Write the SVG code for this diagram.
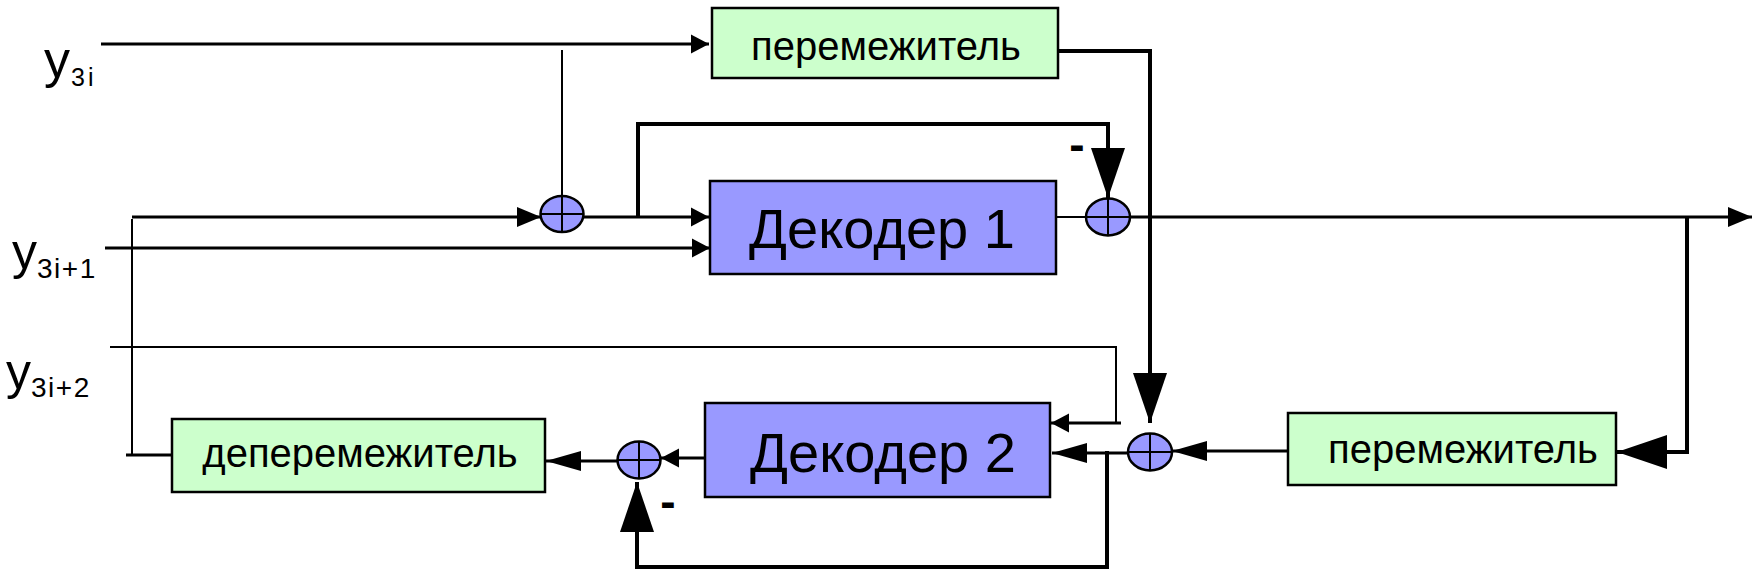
<svg xmlns="http://www.w3.org/2000/svg" width="1760" height="572" viewBox="0 0 1760 572">
<style>
.box{stroke:#000;stroke-width:2.5}
.green{fill:#ccffcc}
.blue{fill:#9999ff}
.lbl{font-family:"Liberation Sans",Arial,sans-serif;fill:#000}
.c{fill:none;stroke:#000;stroke-width:3.2}
.t{fill:none;stroke:#000;stroke-width:2}
.k{fill:none;stroke:#000;stroke-width:4}
.sum{fill:#9999ff;stroke:#000;stroke-width:2.5}
.x{stroke:#000;stroke-width:2}
</style>
<defs>
<marker id="a" markerUnits="userSpaceOnUse" viewBox="0 0 18 20" markerWidth="18" markerHeight="20" refX="18" refY="10" orient="auto"><path d="M0,0.5 L18,10 L0,19.5 Z"/></marker>
<marker id="b" markerUnits="userSpaceOnUse" viewBox="0 0 24 20" markerWidth="24" markerHeight="20" refX="24" refY="10" orient="auto"><path d="M0,0 L24,10 L0,20 Z"/></marker>
<marker id="c" markerUnits="userSpaceOnUse" viewBox="0 0 35 20" markerWidth="35" markerHeight="20" refX="35" refY="10" orient="auto"><path d="M0,0 L35,10 L0,20 Z"/></marker>
<marker id="d" markerUnits="userSpaceOnUse" viewBox="0 0 50 34" markerWidth="50" markerHeight="34" refX="50" refY="17" orient="auto"><path d="M0,0 L50,17 L0,34 Z"/></marker>
</defs>
<g id="labels" class="lbl">
<text x="44" y="77" font-size="52">y</text>
<text x="71" y="86" font-size="25" letter-spacing="3">3i</text>
<text x="12" y="269" font-size="50">y</text>
<text x="37" y="278" font-size="28" letter-spacing="1.5">3i+1</text>
<text x="6" y="389" font-size="50">y</text>
<text x="31" y="397" font-size="28" letter-spacing="1.5">3i+2</text>
<text x="1077" y="160" font-size="46" font-weight="bold" text-anchor="middle">-</text>
<text x="668" y="517" font-size="46" font-weight="bold" text-anchor="middle">-</text>
</g>
<g id="connectors">
<path class="c" d="M101,44 H709" marker-end="url(#a)"/>
<path class="t" d="M562,50 V197"/>
<path class="c" d="M132,217 H541" marker-end="url(#b)"/>
<path class="t" d="M132,219 V455"/>
<path class="c" d="M126,455 H172"/>
<path class="c" d="M105,248 H710" marker-end="url(#a)"/>
<path class="c" d="M584,217 H709" marker-end="url(#a)"/>
<path class="k" d="M638,218 V124 H1108 V198" marker-end="url(#d)"/>
<path class="t" d="M1056,217 H1086"/>
<path class="c" d="M1130,217 H1752" marker-end="url(#b)"/>
<path class="k" d="M1687,217 V452 H1617" marker-end="url(#d)"/>
<path class="k" d="M1056,51 H1150 V423" marker-end="url(#d)"/>
<circle cx="1056" cy="51" r="2.5"/>
<path class="c" d="M1288,451 H1172" marker-end="url(#c)"/>
<path class="c" d="M1128,453 H1052" marker-end="url(#c)"/>
<path class="k" d="M1107,451 V567 H637 V482" marker-end="url(#d)"/>
<path class="t" d="M110,347 H1116 V423"/>
<path class="c" d="M1121,423 H1051" marker-end="url(#a)"/>
<path class="c" d="M705,458 H661" marker-end="url(#a)"/>
<path class="c" d="M617,461 H546" marker-end="url(#c)"/>
</g>
<g id="interleaver1">
<rect class="box green" x="712" y="8" width="346" height="70"/>
<text class="lbl" x="886" y="60" font-size="40" text-anchor="middle">перемежитель</text>
</g>
<g id="decoder1">
<rect class="box blue" x="710" y="181" width="346" height="93"/>
<text class="lbl" x="882" y="248" font-size="56" text-anchor="middle">Декодер 1</text>
</g>
<g id="decoder2">
<rect class="box blue" x="705" y="403" width="345" height="94"/>
<text class="lbl" x="883" y="472" font-size="56" text-anchor="middle">Декодер 2</text>
</g>
<g id="deinterleaver">
<rect class="box green" x="172" y="419" width="373" height="73"/>
<text class="lbl" x="360" y="467" font-size="40" text-anchor="middle">деперемежитель</text>
</g>
<g id="interleaver2">
<rect class="box green" x="1288" y="413" width="328" height="72"/>
<text class="lbl" x="1463" y="463" font-size="40" text-anchor="middle">перемежитель</text>
</g>
<g id="sum1">
<ellipse class="sum" cx="562" cy="214" rx="21.5" ry="18"/>
<path class="x" d="M540.5,214 H583.5 M562,196 V232"/>
</g>
<g id="sum2">
<ellipse class="sum" cx="1108" cy="217" rx="22" ry="18.5"/>
<path class="x" d="M1086,217 H1130 M1108,198.5 V235.5"/>
</g>
<g id="sum3">
<ellipse class="sum" cx="1150" cy="452" rx="22" ry="18.5"/>
<path class="x" d="M1128,452 H1172 M1150,433.5 V470.5"/>
</g>
<g id="sum4">
<ellipse class="sum" cx="639" cy="460" rx="21.5" ry="18.5"/>
<path class="x" d="M617.5,460 H660.5 M639,441.5 V478.5"/>
</g>
</svg>
